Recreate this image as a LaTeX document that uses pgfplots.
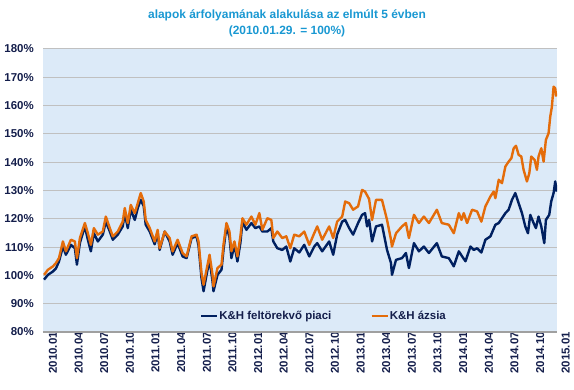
\documentclass[border=0pt]{standalone}
\usepackage{fontspec}
\setmainfont{Liberation Sans}
\usepackage{pgfplots}
\pgfplotsset{compat=1.18}
\definecolor{navyl}{RGB}{0,32,96}
\definecolor{orangel}{RGB}{228,108,10}
\definecolor{bgblue}{RGB}{220,234,248}
\definecolor{gridc}{RGB}{192,192,192}
\definecolor{axisc}{RGB}{160,160,160}
\definecolor{labelc}{RGB}{20,30,75}
\definecolor{titlec}{RGB}{25,152,210}
\begin{document}
\begin{tikzpicture}
\path[use as bounding box] (0bp,0bp) rectangle (574bp,390bp);
\node[font=\bfseries\fontsize{12}{14}\selectfont, text=titlec] at (287bp,375bp) {alapok árfolyamának alakulása az elmúlt 5 évben};
\node[font=\bfseries\fontsize{12}{14}\selectfont, text=titlec] at (287bp,359bp) {(2010.01.29. = 100\%)};
\begin{axis}[
  at={(43bp,58bp)}, anchor=south west,
  scale only axis, width=514bp, height=283bp,
  xmin=0, xmax=60.15, ymin=80, ymax=180,
  axis line style={draw=none},
  major tick length=0pt,
  ytick={80,90,...,180},
  yticklabels={80\%,90\%,100\%,110\%,120\%,130\%,140\%,150\%,160\%,170\%,180\%},
  extra y ticks={80}, extra y tick labels={},
  extra y tick style={grid style={draw=axisc, line width=1.2bp}},
  xtick={0,3,...,60},
  xticklabels={2010.01,2010.04,2010.07,2010.10,2011.01,2011.04,2011.07,2011.10,2012.01,2012.04,2012.07,2012.10,2013.01,2013.04,2013.07,2013.10,2014.01,2014.04,2014.07,2014.10,2015.01},
  ymajorgrids, grid style={draw=gridc, line width=1bp},
  axis background/.style={fill=bgblue},
  tick label style={font=\bfseries\fontsize{11.5}{13}\selectfont, text=labelc},
  /pgf/number format/assume math mode=true,
  yticklabel style={anchor=east, inner sep=0pt, xshift=-9bp},
  xticklabel style={rotate=90, anchor=east, inner sep=0pt, yshift=-10bp},
  legend columns=2,
  legend style={at={(0.305,0.057)}, anchor=west, draw=none, fill=none,
    font=\bfseries\fontsize{11.5}{13}\selectfont, text=labelc,
    /tikz/every even column/.append style={column sep=38bp},
    inner sep=0pt, nodes={inner sep=1bp}},
  legend image code/.code={\draw[#1] (0bp,0bp) -- (16bp,0bp);},
]
\addplot[navyl, line width=2.4bp, line join=round] coordinates {
(0.12,98.5)(0.58,100.2)(1.17,101.4)(1.52,102.5)(1.87,104.9)(2.33,110.2)(2.68,107.3)(3.27,110.8)(3.73,109.6)(3.97,103.8)(4.32,111.5)(4.90,117.3)(5.25,112.6)(5.60,108.5)(5.95,114.9)(6.42,112)(7.00,114.4)(7.35,119)(7.82,115.5)(8.17,112.6)(8.75,114.4)(9.33,117.3)(9.57,122)(9.92,116.7)(10.27,123.2)(10.74,119.6)(11.09,123.8)(11.44,126.7)(11.79,124.4)(12.02,117.9)(12.49,115.5)(13.07,111)(13.42,114.9)
(13.65,109)(14.24,115.5)(14.82,112)(15.17,107.3)(15.75,111.4)(16.34,106.7)(16.80,106.1)(17.39,113.2)(17.97,113.8)(18.20,110.5)(18.55,99)(18.79,94.4)(19.14,100.2)(19.49,105.5)(19.84,97.9)(19.95,94.4)(20.42,100.2)(20.89,102)(21.12,109)(21.47,117.3)(21.82,113.5)(22.05,106.1)(22.40,110.8)(22.75,104.9)(23.10,111.5)(23.34,119)(23.80,116.1)(24.39,118.5)(24.85,116.7)
(25.32,117.3)(25.67,115.5)(26.25,115.5)(26.72,116.7)(26.95,112)(27.42,109.6)(28.00,109)(28.47,110.2)(28.94,104.9)(29.40,109.6)(29.99,108.1)(30.57,110.8)(31.16,106.7)(31.74,110.2)(32.09,111.4)(32.67,108.5)(33.49,112)(33.96,107.3)(34.42,114.4)(35.01,119)(35.36,119.6)(35.83,116.7)(36.29,114.4)(36.87,118.5)(37.34,121.4)(37.69,122)(37.92,117.3)(38.16,119.6)(38.51,112)(38.97,117.3)(39.67,117.9)(40.26,109)(40.72,104.4)(40.84,100.2)(41.31,105.5)(42.01,106.1)(42.47,107.9)(42.82,102.6)(43.41,111.4)(43.99,108.5)(44.57,110.2)(45.16,107.9)(46.09,111.4)(46.67,106.7)(47.49,106.1)(48.07,103.2)
(48.66,108.5)(49.05,106.7)(49.44,105)(50.02,110.2)(50.41,109)(50.80,109.6)(51.30,108.1)(51.77,112.6)(52.36,113.8)(52.94,117.9)(53.33,118.5)(53.71,120.2)(54.11,122)(54.49,123.2)(54.88,126.7)(55.27,129.1)(55.66,125.5)(56.05,122)(56.44,117.3)(56.75,114.9)(57.02,121.4)(57.41,118.5)(57.68,116.7)(57.99,120.8)(58.31,117.3)(58.66,111.4)(58.85,119.6)(59.24,121.4)(59.47,126.1)(59.75,129.1)(59.94,133.2)(60.13,129.6)
};
\addlegendentry{K\&H feltörekvő piaci}
\addplot[orangel, line width=2.4bp, line join=round] coordinates {
(0.12,100.2)(0.58,102)(1.17,103.2)(1.52,104.4)(1.87,106.1)(2.33,112)(2.68,108.5)(3.27,112.6)(3.73,112)(3.97,106.1)(4.32,113.2)(4.90,118.5)(5.25,114.9)(5.60,110.8)(5.95,116.7)(6.42,114.4)(7.00,115.5)(7.35,120.8)(7.82,116.7)(8.17,113.8)(8.75,115.5)(9.33,119)(9.57,123.8)(9.92,118.5)(10.27,124.9)(10.74,122)(11.09,125.5)(11.44,129.1)(11.79,126.1)(12.02,119.6)(12.49,116.7)(13.07,112)(13.42,116.1)
(13.65,109.6)(14.24,115.5)(14.82,113.2)(15.17,108.5)(15.75,112.6)(16.34,107.9)(16.80,106.7)(17.39,113.8)(17.97,114.4)(18.20,112)(18.55,100.8)(18.79,96.7)(19.14,102)(19.49,107.3)(19.84,100.2)(19.95,96.1)(20.42,102.6)(20.89,103.8)(21.12,110.8)(21.47,118.5)(21.82,115.5)(22.05,108.5)(22.40,112)(22.75,106.7)(23.10,113.8)(23.34,120.2)(23.80,117.9)(24.39,120.8)(24.85,117.9)
(25.32,122)(25.67,116.1)(26.25,120.2)(26.72,119.6)(26.95,113.2)(27.42,115.5)(28.00,113.2)(28.47,113.8)(28.94,109.6)(29.40,114.4)(29.99,113.8)(30.57,115.5)(31.16,110.8)(31.74,114.9)(32.09,117.3)(32.67,112.6)(33.49,117.3)(33.96,113.2)(34.42,119)(35.01,120.8)(35.36,126.1)(35.83,125.5)(36.29,123.2)(36.87,124.4)(37.34,130.2)(37.69,129.6)(38.16,127)(38.51,119.6)(38.97,126.7)(39.67,126.7)(40.26,119.6)(40.72,112.6)(40.84,110.2)(41.31,114.9)(42.01,117.3)(42.47,118.5)(42.82,113.2)(43.41,121.4)(43.99,118.5)(44.57,120.8)(45.16,118.5)(46.09,123.2)(46.67,118.5)(47.49,117.9)(48.07,114.9)
(48.66,122)(48.97,119.6)(49.24,122)(49.63,118.5)(50.21,123.2)(50.80,122.6)(51.30,119)(51.77,124.4)(52.36,127.9)(52.74,129.6)(52.94,127.3)(53.33,133.8)(53.71,132.6)(54.11,138.5)(54.49,140.2)(54.81,141.4)(55.08,144.9)(55.35,145.8)(55.66,142.6)(55.97,142)(56.24,137.3)(56.63,133.2)(56.91,136.1)(57.14,142)(57.53,140.8)(57.80,137.3)(57.99,142)(58.31,144.9)(58.58,140.2)(58.85,147.9)(59.16,150.2)(59.36,156.1)(59.55,159.6)(59.75,166.7)(59.94,166.1)(60.05,163.2)
};
\addlegendentry{K\&H ázsia}
\end{axis}
\end{tikzpicture}
\end{document}
